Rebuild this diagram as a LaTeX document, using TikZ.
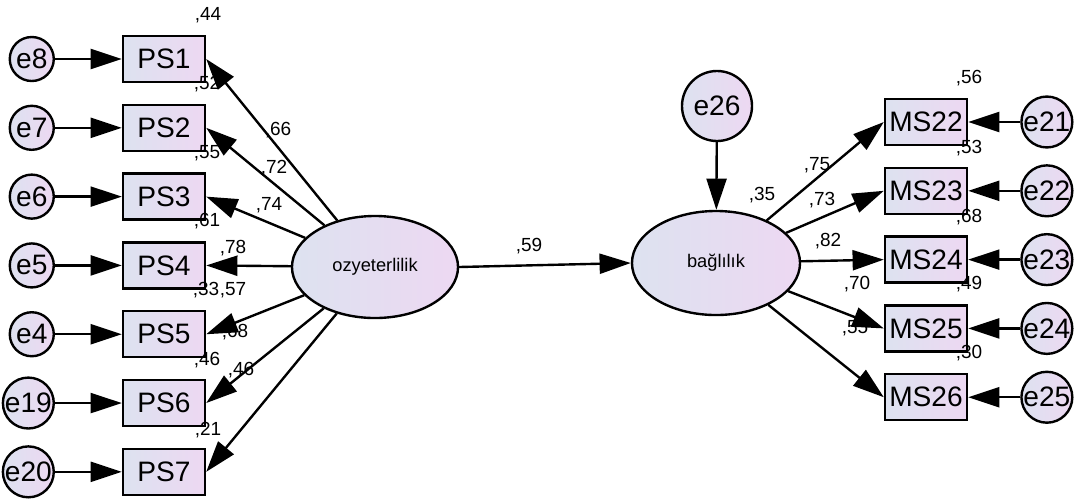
\documentclass[tikz,border=0pt]{standalone}
\usepackage{fontspec}
\setmainfont{Liberation Sans}
\usetikzlibrary{arrows.meta, positioning, shapes.geometric}
\definecolor{amosblue}{HTML}{DDE2F0}
\definecolor{amospink}{HTML}{EDD8F2}

\begin{document}
\begin{tikzpicture}[x=0.025cm, y=-0.025cm,
      obsbox/.style={draw, line width=1.7pt, left color=amosblue, right color=amospink,
        minimum width=2.05cm, minimum height=1.15cm, inner sep=0pt,
        font=\fontsize{20}{23}\selectfont},
      errcirc/.style={circle, draw, line width=1.7pt, left color=amosblue, right color=amospink,
        minimum size=1.1cm, inner sep=0pt, font=\fontsize{20}{23}\selectfont},
      latent/.style={ellipse, draw, line width=1.7pt, left color=amosblue, right color=amospink,
        minimum width=4.15cm, minimum height=2.55cm, inner sep=0pt,
        font=\fontsize{13}{15}\selectfont},
      coef/.style={inner sep=0pt, font=\fontsize{13.5}{15}\selectfont},
      path/.style={-{Triangle[length=0.78cm, width=0.5cm]}, line width=1.7pt},
      >=Latex
    ]
  \useasboundingbox (0,0) rectangle (1076,502);

  % exogenous latent and its indicators
  \node[latent] (ozy) at (375,267) {ozyeterlilik};
  \node[obsbox] (ps1) at (164,59) {PS1};
  \node[obsbox, below=0.51cm of ps1] (ps2) {PS2};
  \node[obsbox, below=0.51cm of ps2] (ps3) {PS3};
  \node[obsbox, below=0.51cm of ps3] (ps4) {PS4};
  \node[obsbox, below=0.51cm of ps4] (ps5) {PS5};
  \node[obsbox, below=0.51cm of ps5] (ps6) {PS6};
  \node[obsbox, below=0.51cm of ps6] (ps7) {PS7};
  \node[errcirc, left=1.67cm of ps1] (e8) {e8};
  \node[errcirc, left=1.67cm of ps2] (e7) {e7};
  \node[errcirc, left=1.67cm of ps3] (e6) {e6};
  \node[errcirc, left=1.67cm of ps4] (e5) {e5};
  \node[errcirc, left=1.67cm of ps5] (e4) {e4};
  \node[errcirc, left=1.67cm of ps6] (e19) {e19};
  \node[errcirc, left=1.67cm of ps7] (e20) {e20};

  % endogenous latent and its indicators
  \node[latent, minimum width=4.2cm, minimum height=2.6cm] (bag) at (716,263) {bağlılık};
  \node[errcirc, minimum size=1.75cm] (e26) at (717,106) {e26};
  \node[obsbox] (ms22) at (926,122) {MS22};
  \node[obsbox, below=0.51cm of ms22] (ms23) {MS23};
  \node[obsbox, below=0.51cm of ms23] (ms24) {MS24};
  \node[obsbox, below=0.51cm of ms24] (ms25) {MS25};
  \node[obsbox, below=0.51cm of ms25] (ms26) {MS26};
  \node[errcirc, right=1.3cm of ms22] (e21) {e21};
  \node[errcirc, right=1.3cm of ms23] (e22) {e22};
  \node[errcirc, right=1.3cm of ms24] (e23) {e23};
  \node[errcirc, right=1.3cm of ms25] (e24) {e24};
  \node[errcirc, right=1.3cm of ms26] (e25) {e25};

  % paths
  \draw[path] (e8) -- (ps1);
  \draw[path] (e7) -- (ps2);
  \draw[path] (e6) -- (ps3);
  \draw[path] (e5) -- (ps4);
  \draw[path] (e4) -- (ps5);
  \draw[path] (e19) -- (ps6);
  \draw[path] (e20) -- (ps7);
  \draw[path] (ozy) -- (ps1.east);
  \draw[path] (ozy) -- (ps2.east);
  \draw[path] (ozy) -- (ps3.east);
  \draw[path] (ozy) -- (ps4.east);
  \draw[path] (ozy) -- (ps5.east);
  \draw[path] (ozy) -- (ps6.east);
  \draw[path] (ozy) -- (ps7.east);
  \draw[path] (ozy.east) -- (bag.west);
  \draw[path] (e26) -- (bag);
  \draw[path] (bag) -- (ms22.west);
  \draw[path] (bag) -- (ms23.west);
  \draw[path] (bag) -- (ms24.west);
  \draw[path] (bag) -- (ms25.west);
  \draw[path] (bag) -- (ms26.west);
  \draw[path] (e21) -- (ms22);
  \draw[path] (e22) -- (ms23);
  \draw[path] (e23) -- (ms24);
  \draw[path] (e24) -- (ms25);
  \draw[path] (e25) -- (ms26);

  % estimates
  \node[coef] (r1) at (208,15) {,44};
  \node[coef] (r2) at (207,84) {,52};
  \node[coef] (r3) at (207,153) {,55};
  \node[coef] (r4) at (207,221) {,61};
  \node[coef] (r5) at (206,290) {,33};
  \node[coef] (r6) at (207,360) {,46};
  \node[coef] (r7) at (208,430) {,21};
  \node[coef] (l1) at (278,130) {,66};
  \node[coef] (l2) at (274,168) {,72};
  \node[coef] (l3) at (269,205) {,74};
  \node[coef] (l4) at (233,248) {,78};
  \node[coef] (l5) at (233,290) {,57};
  \node[coef] (l6) at (235,332) {,68};
  \node[coef] (l7) at (241,370) {,46};
  \node[coef] (beta) at (529,246) {,59};
  \node[coef] (rbag) at (762,195) {,35};
  \node[coef] (m1) at (817,165) {,75};
  \node[coef] (m2) at (822,200) {,73};
  \node[coef] (m3) at (828,241) {,82};
  \node[coef] (m4) at (857,284) {,70};
  \node[coef] (m5) at (855,328) {,55};
  \node[coef] (q1) at (969,78) {,56};
  \node[coef] (q2) at (969,148) {,53};
  \node[coef] (q3) at (969,217) {,68};
  \node[coef] (q4) at (969,284) {,49};
  \node[coef] (q5) at (969,353) {,30};
\end{tikzpicture}
\end{document}
